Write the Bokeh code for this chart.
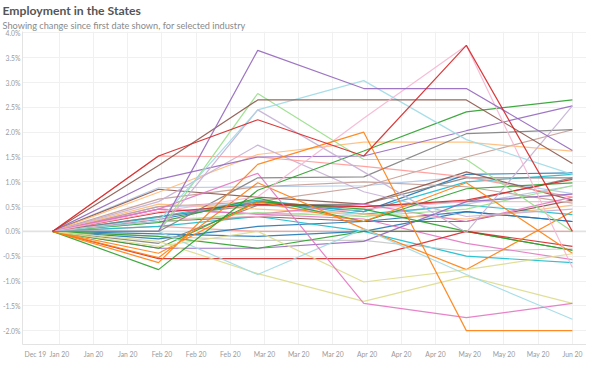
from datetime import datetime
from bokeh.plotting import figure
from bokeh.models import (ColumnDataSource, FixedTicker, PrintfTickFormatter,
                          DatetimeTickFormatter, Title, Range1d, Span)
from bokeh.embed import file_html
from bokeh.resources import INLINE

# ---------------- data ----------------
title_text = "Employment in the States"
subtitle_text = "Showing change since first date shown, for selected industry"
months = ["2020-01-01", "2020-02-01", "2020-03-01", "2020-04-01", "2020-05-01", "2020-06-01"]
x_tick_dates = ["2019-12-27", "2020-01-03", "2020-01-13", "2020-01-23", "2020-02-02",
                "2020-02-12", "2020-02-22", "2020-03-03", "2020-03-13", "2020-03-23",
                "2020-04-02", "2020-04-12", "2020-04-22", "2020-05-02", "2020-05-12",
                "2020-05-22", "2020-06-01"]
y_ticks = [-2.0, -1.5, -1.0, -0.5, 0.0, 0.5, 1.0, 1.5, 2.0, 2.5, 3.0, 3.5, 4.0]

# change since first date shown (%), one list per state
s01 = [0, 0.10, 0.00, 0.00, 0.00, 0.00]
s02 = [0, 0.88, 0.90, 0.92, 1.10, 0.76]
s03 = [0, 0.50, 0.55, 0.30, 0.55, 0.92]
s04 = [0, 0.24, 0.60, 0.40, 1.15, 1.18]
s05 = [0, 0.30, 0.63, 0.40, 1.00, 1.15]
s06 = [0, 0.28, 0.60, 0.35, 0.53, 0.34]
s07 = [0, -0.05, -0.10, 0.00, 0.40, 0.20]
s08 = [0, -0.15, 0.10, 0.20, 0.40, 0.20]
s09 = [0, 0.10, 0.30, 0.00, -0.50, -0.63]
s10 = [0, 0.30, 0.53, 0.55, 1.08, 1.08]
s11 = [0, -0.24, 0.53, 0.50, 0.60, 1.08]
s12 = [0, -0.10, -0.18, -0.18, -0.40, -0.35]
s13 = [0, 0.50, 0.60, 0.90, 1.50, 2.05]
s14 = [0, 0.65, 0.90, 1.00, 0.90, 0.57]
s15 = [0, 0.20, 0.30, 0.20, 0.20, 0.63]
s16 = [0, 0.85, 0.69, 0.55, 1.20, 0.63]
s17 = [0, 0.55, 0.45, 0.35, 0.25, 0.53]
s18 = [0, 0.79, 1.55, 1.80, 1.80, 1.62]
s19 = [0, 0.25, 0.30, 0.45, 0.60, 0.60]
s20 = [0, 0.45, 0.35, 0.55, 0.20, 0.69]
s21 = [0, 0.45, 0.35, 0.25, -0.24, -0.57]
s22 = [0, 0.18, 0.38, 0.30, 0.45, 0.92]
s23 = [0, 0.60, 1.74, 0.80, 0.30, 0.45]
s24 = [0, 1.52, 1.50, 1.31, 1.10, 0.69]
s25 = [0, -0.34, -0.34, -0.20, 0.60, 0.75]
s26 = [0, -0.10, -0.34, 0.00, 0.00, -0.38]
s27 = [0, -0.34, 0.60, 0.45, 0.00, -0.38]
s28 = [0, 0.18, 0.67, 0.20, 0.86, 0.98]
s29 = [0, 0.38, 0.55, 0.50, 0.63, 1.05]
s30 = [0, -0.55, -0.55, -0.55, 0.00, -0.30]
s31 = [0, -0.44, 0.60, 0.20, 0.98, -0.44]
s32 = [0, -0.53, 0.98, 0.05, -0.77, 0.40]
s33 = [0, -0.30, 0.00, -1.02, -0.77, -0.45]
s34 = [0, -0.20, -0.85, -1.41, -0.90, -1.45]
s35 = [0, 0.00, -0.87, 0.05, -0.87, -1.77]
s36 = [0, 0.45, 1.17, -1.45, -1.74, -1.45]
s37 = [0, 0.00, 1.08, 1.10, 1.97, 2.05]
s38 = [0, -0.77, 0.83, 1.62, 2.41, 2.65]
s39 = [0, 1.05, 1.50, 1.52, 2.03, 2.53]
s40 = [0, 0.00, 2.45, 1.20, -0.02, 2.53]
s41 = [0, 0.00, 2.78, 1.45, 1.45, 0.00]
s42 = [0, 0.20, 2.45, 3.04, 1.85, 1.15]
s43 = [0, 1.33, 2.65, 2.65, 2.65, 1.37]
s44 = [0, 0.40, 0.70, 2.28, 3.75, -0.73]
s45 = [0, -0.63, 1.35, 2.00, -2.00, -2.00]
s46 = [0, 0.00, 3.65, 2.88, 2.88, 1.63]
s47 = [0, 1.52, 2.25, 1.52, 3.75, 0.00]

series = [s01, s02, s03, s04, s05, s06, s07, s08, s09, s10, s11, s12, s13, s14, s15, s16,
          s17, s18, s19, s20, s21, s22, s23, s24, s25, s26, s27, s28, s29, s30, s31, s32,
          s33, s34, s35, s36, s37, s38, s39, s40, s41, s42, s43, s44, s45, s46, s47]

colors = ["#ff9896", "#aec7e8", "#aec7e8", "#1f77b4", "#17becf", "#17becf", "#1f77b4",
          "#1f77b4", "#17becf", "#7f7f7f", "#7f7f7f", "#c7c7c7", "#c49c94", "#c49c94",
          "#8c564b", "#8c564b", "#ffbb78", "#ffbb78", "#f7b6d2", "#e377c2", "#e377c2",
          "#98df8a", "#c5b0d5", "#ff9896", "#9467bd", "#2ca02c", "#2ca02c", "#2ca02c",
          "#d62728", "#d62728", "#ff7f0e", "#ff7f0e", "#dbdb8d", "#dbdb8d", "#9edae5",
          "#e377c2", "#7f7f7f", "#2ca02c", "#9467bd", "#c5b0d5", "#98df8a", "#9edae5",
          "#8c564b", "#f7b6d2", "#ff7f0e", "#9467bd", "#d62728"]

# ---------------- helpers ----------------
def to_dt(s):
    return datetime.strptime(s, "%Y-%m-%d")

def to_ms(s):
    return (to_dt(s) - datetime(1970, 1, 1)).total_seconds() * 1000.0

xdates = [to_dt(m) for m in months]
src = ColumnDataSource(dict(xs=[xdates for _ in series], ys=series, color=colors))

FONT = "Lato"
LABEL_COLOR = "#9a9a9a"

p = figure(frame_width=564, frame_height=313, x_axis_type="datetime",
           output_backend="svg", toolbar_location=None, title=None,
           x_range=Range1d(datetime(2019, 12, 23, 5, 30), datetime(2020, 6, 5, 3)),
           y_range=Range1d(-2.28, 4.03),
           min_border_left=20, min_border_right=0, min_border_top=0,
           min_border_bottom=13)
p.outline_line_color = None
p.background_fill_color = "white"
p.border_fill_color = "white"

sub = Title(text=subtitle_text, text_font=FONT, text_font_size="9.2px",
            text_font_style="normal", text_color="#8a8a8a", align="left",
            offset=-20, standoff=1)
main = Title(text=title_text, text_font=FONT, text_font_size="12.2px",
             text_font_style="bold", text_color="#555555", align="left",
             offset=-20, standoff=0)
p.add_layout(sub, "above")
p.add_layout(main, "above")

# grids
p.xgrid.ticker = FixedTicker(ticks=[to_ms(d) for d in x_tick_dates[1:]])
p.xgrid.grid_line_color = "#f0f0f0"
p.ygrid.ticker = FixedTicker(ticks=y_ticks)
p.ygrid.grid_line_color = "#f0f0f0"

p.add_layout(Span(location=0, dimension="width", line_color="#e2e2e2", line_width=1.6,
                  level="underlay"))

# axes
p.xaxis.ticker = FixedTicker(ticks=[to_ms(d) for d in x_tick_dates])
fmt = "%b %y"
p.xaxis.formatter = DatetimeTickFormatter(milliseconds=fmt, seconds=fmt, minsec=fmt,
                                          minutes=fmt, hourmin=fmt, hours=fmt, days=fmt,
                                          months=fmt, years=fmt)
p.yaxis.ticker = FixedTicker(ticks=y_ticks)
p.yaxis.formatter = PrintfTickFormatter(format="%.1f%%")
for ax in (p.xaxis[0], p.yaxis[0]):
    ax.axis_line_color = "#e3e3e3"
    ax.major_tick_line_color = None
    ax.minor_tick_line_color = None
    ax.major_tick_out = 0
    ax.major_tick_in = 0
    ax.minor_tick_out = 0
    ax.minor_tick_in = 0
    ax.major_label_text_font = FONT
    ax.major_label_text_font_size = "6.8px"
    ax.major_label_text_color = LABEL_COLOR
p.xaxis.major_label_standoff = 5
p.yaxis.major_label_standoff = 2

p.multi_line(xs="xs", ys="ys", line_color="color", line_width=1.2, line_alpha=0.9,
             source=src)

open("out.html", "w").write(file_html(p, INLINE))
